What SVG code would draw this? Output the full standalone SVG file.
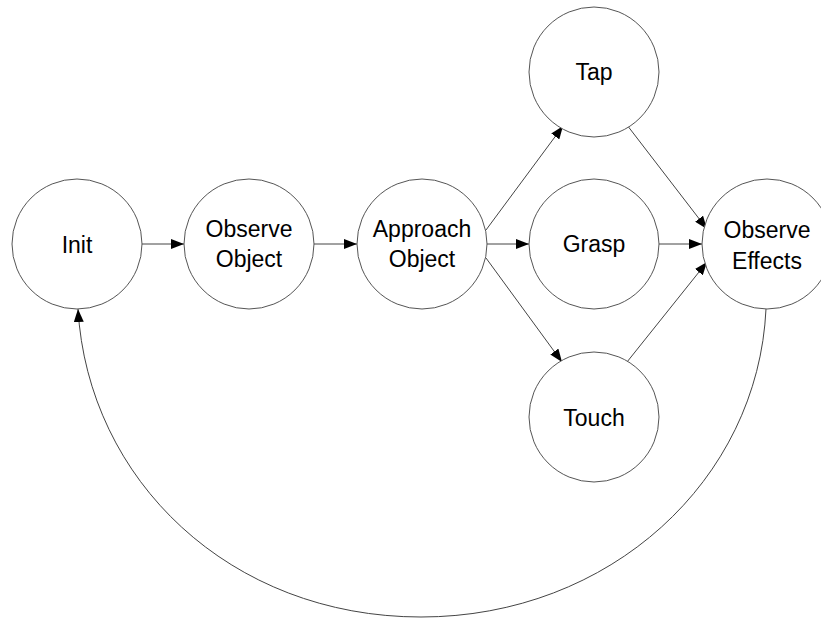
<svg xmlns="http://www.w3.org/2000/svg" width="821" height="620" viewBox="0 0 821 620">
<style>
.n{fill:#fff;stroke:#555;stroke-width:1}
.t{font-family:"Liberation Sans","DejaVu Sans",sans-serif;font-size:23px;fill:#000;text-anchor:middle}
.e{fill:none;stroke:#444;stroke-width:1;marker-end:url(#ah)}
</style>
<defs>
<marker id="ah" markerWidth="13" markerHeight="10" refX="13" refY="5" orient="auto" markerUnits="userSpaceOnUse">
<path d="M0,0 L13,5 L0,10 Z" fill="#000"/>
</marker>
</defs>
<rect width="821" height="620" fill="#fff"/>
<g id="edges">
<line class="e" x1="141" y1="244" x2="184" y2="244"/>
<line class="e" x1="314" y1="244" x2="357" y2="244"/>
<line class="e" x1="487" y1="244" x2="529" y2="244"/>
<line class="e" x1="659" y1="244" x2="702" y2="244"/>
<line class="e" x1="486" y1="230" x2="563" y2="126"/>
<line class="e" x1="486" y1="258" x2="562" y2="362"/>
<line class="e" x1="627" y1="125" x2="707" y2="229"/>
<line class="e" x1="627" y1="362" x2="707" y2="262"/>
<path class="e" d="M766,309 C758,480 610,617 421,617 C230,617 88,480 78,309"/>
</g>
<g id="init"><circle class="n" cx="77" cy="244" r="65"/><text class="t" x="77" y="253">Init</text></g>
<g id="observe_object"><circle class="n" cx="249" cy="244" r="65"/><text class="t" x="249" y="237">Observe</text><text class="t" x="249" y="267">Object</text></g>
<g id="approach_object"><circle class="n" cx="422" cy="244" r="65"/><text class="t" x="422" y="237">Approach</text><text class="t" x="422" y="267">Object</text></g>
<g id="tap"><circle class="n" cx="594" cy="72" r="65"/><text class="t" x="594" y="80">Tap</text></g>
<g id="grasp"><circle class="n" cx="594" cy="244" r="65"/><text class="t" x="594" y="252">Grasp</text></g>
<g id="touch"><circle class="n" cx="594" cy="417" r="65"/><text class="t" x="594" y="426">Touch</text></g>
<g id="observe_effects"><circle class="n" cx="767" cy="244" r="65"/><text class="t" x="767" y="238">Observe</text><text class="t" x="767" y="269">Effects</text></g>
</svg>
